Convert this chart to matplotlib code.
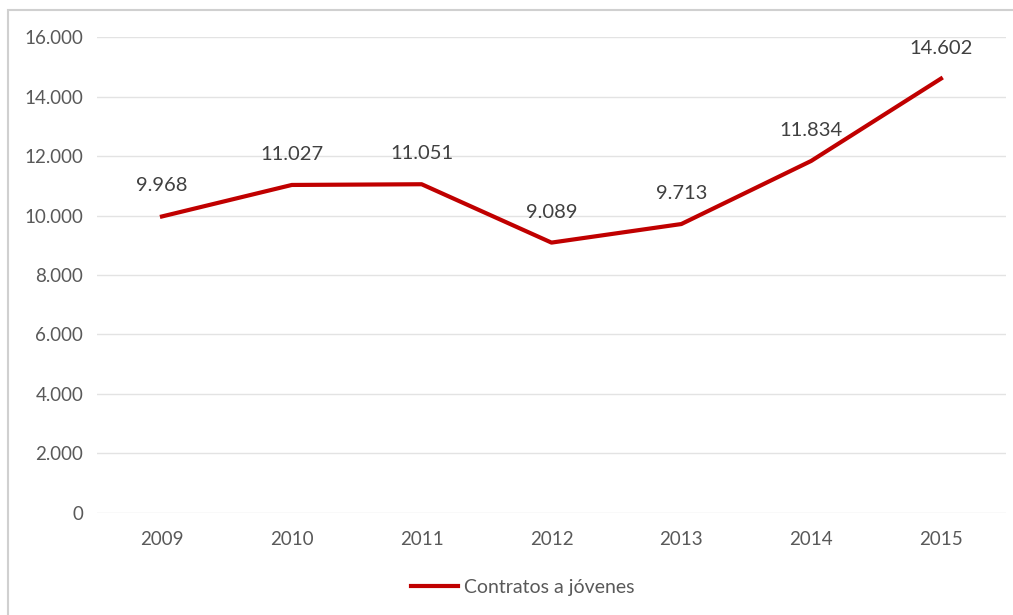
import matplotlib.pyplot as plt
from matplotlib.patches import Rectangle

years = ['2009', '2010', '2011', '2012', '2013', '2014', '2015']
contratos = [9968, 11027, 11051, 9089, 9713, 11834, 14602]
labels = ['9.968', '11.027', '11.051', '9.089', '9.713', '11.834', '14.602']
yticks = [0, 2000, 4000, 6000, 8000, 10000, 12000, 14000, 16000]
ytick_labels = ['0', '2.000', '4.000', '6.000', '8.000', '10.000', '12.000', '14.000', '16.000']

plt.rcParams['font.family'] = ['Lato', 'DejaVu Sans']

fig = plt.figure(figsize=(10.13, 6.15), dpi=100)
ax = fig.add_axes([0.0958, 0.1659, 0.8972, 0.7739])

# frame around the chart
fig.patches.append(Rectangle((0.008, -0.01), 1.0, 0.994, transform=fig.transFigure,
                             fill=False, edgecolor='#d0d0d0', linewidth=1.5))

x = range(len(years))
ax.plot(x, contratos, color='#c00000', linewidth=3, label='Contratos a jóvenes')
for xi, v, lab in zip(x, contratos, labels):
    ax.annotate(lab, (xi, v), xytext=(0, 22), textcoords='offset points',
                ha='center', va='center', fontsize=14.5, color='#404040')

ax.set_xlim(-0.5, len(years) - 0.5)
ax.set_ylim(0, 16000)
ax.set_yticks(yticks)
ax.set_yticklabels(ytick_labels)
ax.set_xticks(list(x))
ax.set_xticklabels(years)
ax.tick_params(axis='both', length=0, labelsize=13.5, colors='#595959')
ax.tick_params(axis='y', pad=10)
ax.tick_params(axis='x', pad=13)
ax.grid(axis='y', color='#e3e3e3', linewidth=1)
ax.set_axisbelow(True)
for s in ax.spines.values():
    s.set_visible(False)

fig.legend(loc='center', bbox_to_anchor=(0.516, 0.045), frameon=False,
           fontsize=14, labelcolor='#595959', handlelength=2.4, handletextpad=0.3)

fig.savefig('out.png', dpi=100)
plt.close(fig)
